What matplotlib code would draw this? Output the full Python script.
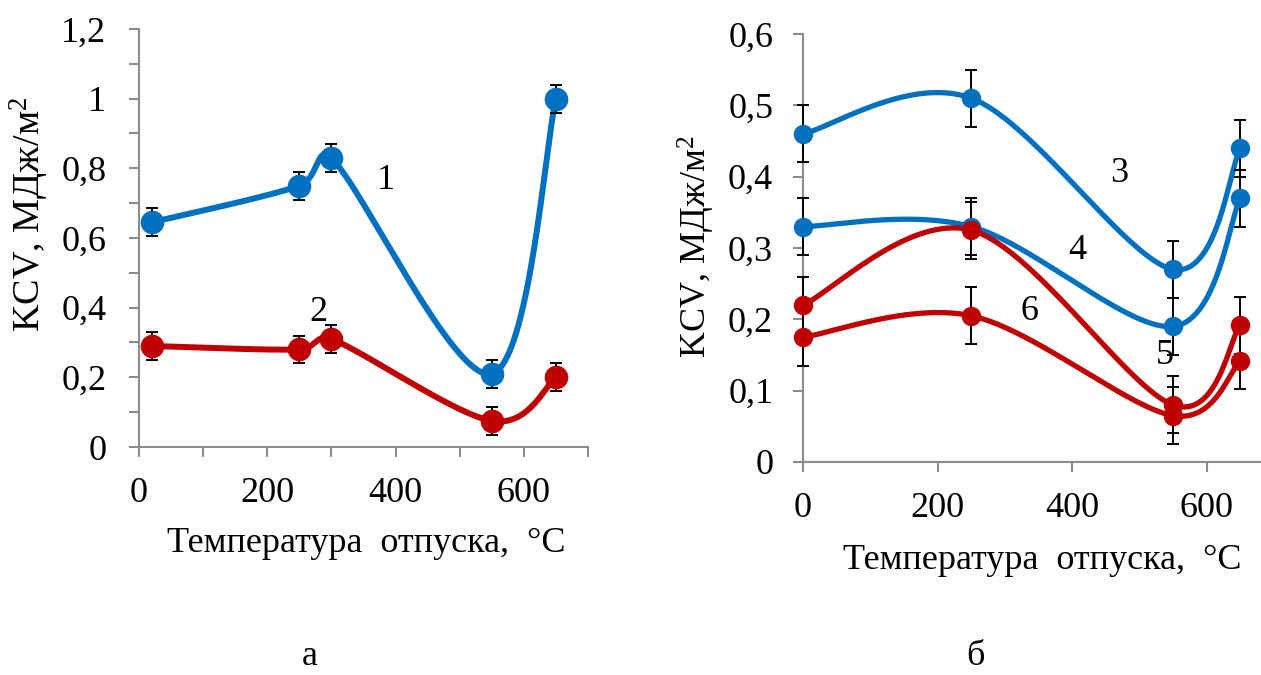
import numpy as np
import matplotlib
matplotlib.use("Agg")
import matplotlib.pyplot as plt
from matplotlib.ticker import MultipleLocator

plt.rcParams["font.family"] = ["Liberation Serif", "DejaVu Serif"]
plt.rcParams["font.size"] = 26
plt.rcParams["mathtext.fontset"] = "custom"
plt.rcParams["mathtext.rm"] = "Liberation Serif"
plt.rcParams["mathtext.it"] = "Liberation Serif:italic"

# ---- panel а: tempering temperature vs impact toughness ----
temp_a = [20, 250, 300, 550, 650]
kcv_1 = [0.645, 0.75, 0.83, 0.21, 1.0]
kcv_2 = [0.29, 0.28, 0.31, 0.075, 0.2]
err_1 = [0.04, 0.04, 0.04, 0.04, 0.04]
err_2 = [0.04, 0.04, 0.04, 0.04, 0.04]

# ---- panel б ----
temp_b = [0, 250, 550, 650]
kcv_3 = [0.46, 0.51, 0.27, 0.44]
kcv_4 = [0.33, 0.33, 0.19, 0.37]
kcv_5 = [0.22, 0.325, 0.08, 0.192]
kcv_6 = [0.175, 0.205, 0.065, 0.142]
err_b = [0.04, 0.04, 0.04, 0.04]

xticks = [0, 200, 400, 600]
xticklabels = ["0", "200", "400", "600"]
yticks_a = [0, 0.2, 0.4, 0.6, 0.8, 1.0, 1.2]
yticklabels_a = ["0", "0,2", "0,4", "0,6", "0,8", "1", "1,2"]
yticks_b = [0, 0.1, 0.2, 0.3, 0.4, 0.5, 0.6]
yticklabels_b = ["0", "0,1", "0,2", "0,3", "0,4", "0,5", "0,6"]

xlabel = "Температура  отпуска,  °С"
ylabel = r"KCV, МДж/м$^{\mathrm{2}}$"

BLUE = "#0070C0"
RED = "#C00000"
AXIS_GREY = "#8c8c8c"


def smooth_curve(ax, xs, ys, n=80):
    """Bezier smoothing (spreadsheet style) computed in display space."""
    pts = ax.transData.transform(np.column_stack([xs, ys]))
    m = len(pts)
    pieces = []
    for i in range(m - 1):
        p0 = pts[i - 1] if i > 0 else pts[i]
        p1 = pts[i]
        p2 = pts[i + 1]
        p3 = pts[i + 2] if i + 2 < m else pts[i + 1]
        d12 = np.hypot(*(p2 - p1))

        def handle(a, b):
            v = b - a
            d = np.hypot(*v)
            if d == 0:
                return v * 0
            f = 1 / 6
            if d * f > d12 / 2:
                f = d12 / 2 / d
            return v * f

        c1 = p1 + handle(p0, p2)
        c2 = p2 - handle(p1, p3)
        t = np.linspace(0, 1, n)[:, None]
        seg = ((1 - t) ** 3) * p1 + 3 * ((1 - t) ** 2) * t * c1 \
            + 3 * (1 - t) * (t ** 2) * c2 + (t ** 3) * p2
        pieces.append(seg if i == 0 else seg[1:])
    path = np.vstack(pieces)
    return ax.transData.inverted().transform(path)


def style_axes(ax):
    for s in ("top", "right"):
        ax.spines[s].set_visible(False)
    for s in ("left", "bottom"):
        ax.spines[s].set_color(AXIS_GREY)
        ax.spines[s].set_linewidth(1.5)
    ax.tick_params(which="both", direction="out", length=7.5, width=1.5,
                   color=AXIS_GREY, labelcolor="black")


def draw_series(ax, xs, ys, err, color, lw, ms):
    curve = smooth_curve(ax, xs, ys)
    ax.plot(curve[:, 0], curve[:, 1], color=color, lw=lw, zorder=3,
            solid_capstyle="round", clip_on=False)
    ax.errorbar(xs, ys, yerr=err, fmt="none", ecolor="black", elinewidth=1.4,
                capsize=4.5, capthick=1.4, zorder=3.5, clip_on=False)
    ax.plot(xs, ys, "o", color=color, ms=ms, zorder=4, clip_on=False)


fig = plt.figure(figsize=(12.61, 6.75), dpi=100)

# ---------------- panel а ----------------
ax_a = fig.add_axes([139 / 1261, 228 / 675, 449 / 1261, 418 / 675])
ax_a.set_xlim(0, 700)
ax_a.set_ylim(0, 1.2)
style_axes(ax_a)
ax_a.set_xticks(xticks, labels=xticklabels)
ax_a.xaxis.set_minor_locator(MultipleLocator(100))
ax_a.set_yticks(yticks_a, labels=yticklabels_a)
ax_a.yaxis.set_minor_locator(MultipleLocator(0.1))
ax_a.tick_params(axis="y", which="major", pad=16)
ax_a.tick_params(axis="x", which="major", pad=14)

draw_series(ax_a, temp_a, kcv_1, err_1, BLUE, 4.3, 16)
draw_series(ax_a, temp_a, kcv_2, err_2, RED, 4.3, 16)

ax_a.text(385, 0.765, "1", ha="center", va="center")
ax_a.text(279, 0.385, "2", ha="center", va="center")

ax_a.set_xlabel(xlabel)
ax_a.xaxis.label.set_va("center")
ax_a.xaxis.set_label_coords(0.5056, -0.23)
ax_a.set_ylabel(ylabel, fontsize=27.5)
ax_a.yaxis.label.set_va("center")
ax_a.yaxis.set_label_coords(-0.243, 0.557)

# ---------------- panel б ----------------
ax_b = fig.add_axes([803 / 1261, 213 / 675, 471 / 1261, 428 / 675])
ax_b.set_xlim(0, 700)
ax_b.set_ylim(0, 0.6)
style_axes(ax_b)
ax_b.set_xticks(xticks, labels=xticklabels)
ax_b.set_yticks(yticks_b, labels=yticklabels_b)
ax_b.tick_params(axis="y", which="major", pad=14)
ax_b.tick_params(axis="x", which="major", pad=14)

draw_series(ax_b, temp_b, kcv_3, err_b, BLUE, 3.8, 13)
draw_series(ax_b, temp_b, kcv_4, err_b, BLUE, 3.8, 13)
draw_series(ax_b, temp_b, kcv_5, err_b, RED, 3.8, 13)
draw_series(ax_b, temp_b, kcv_6, err_b, RED, 3.8, 13)

ax_b.text(470, 0.405, "3", ha="center", va="center")
ax_b.text(407, 0.297, "4", ha="center", va="center")
ax_b.text(537, 0.15, "5", ha="center", va="center", zorder=5)
ax_b.text(337, 0.211, "6", ha="center", va="center")

ax_b.set_xlabel(xlabel)
ax_b.xaxis.label.set_va("center")
ax_b.xaxis.set_label_coords(0.507, -0.229)
ax_b.set_ylabel(ylabel)
ax_b.yaxis.label.set_va("center")
ax_b.yaxis.set_label_coords(-0.227, 0.502)

fig.text(310 / 1261, 2 / 675, "а", ha="center", va="bottom")
fig.text(975 / 1261, 2 / 675, "б", ha="center", va="bottom")

fig.savefig("out.png", dpi=100)
